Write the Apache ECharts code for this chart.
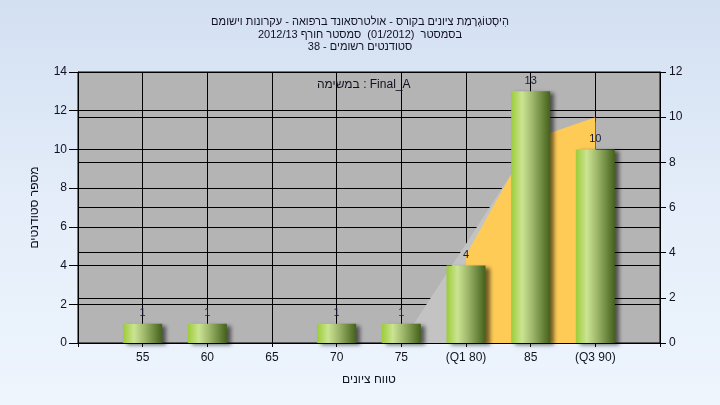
<!DOCTYPE html>
<html><head><meta charset="utf-8">
<script src="https://cdn.jsdelivr.net/npm/echarts@6/dist/echarts.min.js"></script>
<style>
html,body{margin:0;padding:0;width:720px;height:405px;overflow:hidden;
background:linear-gradient(180deg,#d3e0f2 0%,#e4edf9 50%,#eef5fd 100%);}
#c{width:720px;height:405px;}
</style></head><body><div id="c"></div>
<script>
var titleLines = ['הִיסְטוֹגְרָמַת ציונים בקורס - אולטרסאונד ברפואה - עקרונות וישומם',
  'בסמסטר  (01/2012)  סמסטר חורף 2012/13',
  'סטודנטים רשומים - 38'];
var categories = ['', '55', '60', '65', '70', '75', '(Q1 80)', '85', '(Q3 90)', ''];
var counts = [null, 1, 1, 0, 1, 1, 4, 13, 10, null];
var curveAll = [null, null, null, null, null, 0, 4.4, 8.8, 9.8, null];
var curveIQR = [null, null, null, null, null, null, 3.9, 9.0, 10.0, null];
var leftTicks = {min: 0, max: 14, interval: 2};
var rightTicks = {min: 0, max: 12, interval: 2};
var yName = 'מספר סטודנטים';
var xName = 'טווח ציונים';
var taskText = 'במשימה : Final_A';

var font = '"Liberation Sans", Arial, sans-serif';
var txt = '#111122';
var chart = echarts.init(document.getElementById('c'), null, {renderer: 'canvas'});
chart.setOption({
  backgroundColor: 'transparent',
  animation: false,
  textStyle: {fontFamily: font},
  title: {
    text: titleLines.join('\n'), left: 'center', top: 11,
    textStyle: {fontSize: 11, fontWeight: 'normal', color: txt, lineHeight: 12.5, fontFamily: font}
  },
  grid: {left: 78, right: 60, top: 72, bottom: 62, show: true,
    backgroundColor: '#b4b4b4', borderColor: '#000', borderWidth: 1},
  graphic: [{
    type: 'text', left: 367 - 50, top: 79, z: 10,
    style: {text: taskText, fontSize: 12, fill: txt, fontFamily: font, width: 100, align: 'center'}
  }],
  xAxis: {
    type: 'category', data: categories, boundaryGap: false,
    name: xName, nameLocation: 'middle', nameGap: 31,
    nameTextStyle: {fontSize: 12, color: txt, fontFamily: font},
    axisLine: {lineStyle: {color: '#000', width: 1}},
    axisTick: {show: true, length: 4, lineStyle: {color: '#000'}},
    axisLabel: {fontSize: 12, color: txt, margin: 9, fontFamily: font},
    splitLine: {show: true, lineStyle: {color: '#000', width: 1}}
  },
  yAxis: [{
    type: 'value', min: leftTicks.min, max: leftTicks.max, interval: leftTicks.interval,
    name: yName, nameLocation: 'middle', nameGap: 37, nameRotate: 90,
    nameTextStyle: {fontSize: 12, color: txt, fontFamily: font},
    axisLine: {show: true, lineStyle: {color: '#000'}},
    axisTick: {show: true, length: 9, lineStyle: {color: '#000'}},
    axisLabel: {fontSize: 12, color: txt, margin: 11, fontFamily: font},
    splitLine: {show: true, lineStyle: {color: '#000', width: 1}}
  }, {
    type: 'value', min: rightTicks.min, max: rightTicks.max, interval: rightTicks.interval,
    position: 'right',
    axisLine: {show: true, lineStyle: {color: '#000'}},
    axisTick: {show: true, length: 6, lineStyle: {color: '#000'}},
    axisLabel: {fontSize: 12, color: txt, margin: 9, fontFamily: font},
    splitLine: {show: true, lineStyle: {color: '#000', width: 1}}
  }],
  series: [{
    type: 'line', yAxisIndex: 1, data: curveAll, showSymbol: false, z: 2,
    lineStyle: {width: 0}, areaStyle: {color: '#c3c3c3', opacity: 1}, silent: true
  }, {
    type: 'line', yAxisIndex: 1, data: curveIQR, showSymbol: false, z: 3,
    lineStyle: {width: 0}, areaStyle: {color: '#fecb56', opacity: 1}, silent: true
  }, {
    type: 'bar', yAxisIndex: 0, data: counts, barWidth: 39, z: 5,
    itemStyle: {
      color: new echarts.graphic.LinearGradient(0, 0, 1, 0, [
        {offset: 0, color: '#9ccc38'},
        {offset: 0.28, color: '#cbe493'},
        {offset: 0.55, color: '#9db66a'},
        {offset: 1, color: '#44611b'}
      ]),
      shadowColor: 'rgba(0,0,0,0.55)', shadowBlur: 4, shadowOffsetX: 4, shadowOffsetY: 2
    },
    label: {
      show: true, position: 'top', distance: 5, fontSize: 11, color: '#1a1a3a', fontFamily: font,
      formatter: function (p) { return p.value ? String(p.value) : ''; }
    }
  }]
});
</script></body></html>
